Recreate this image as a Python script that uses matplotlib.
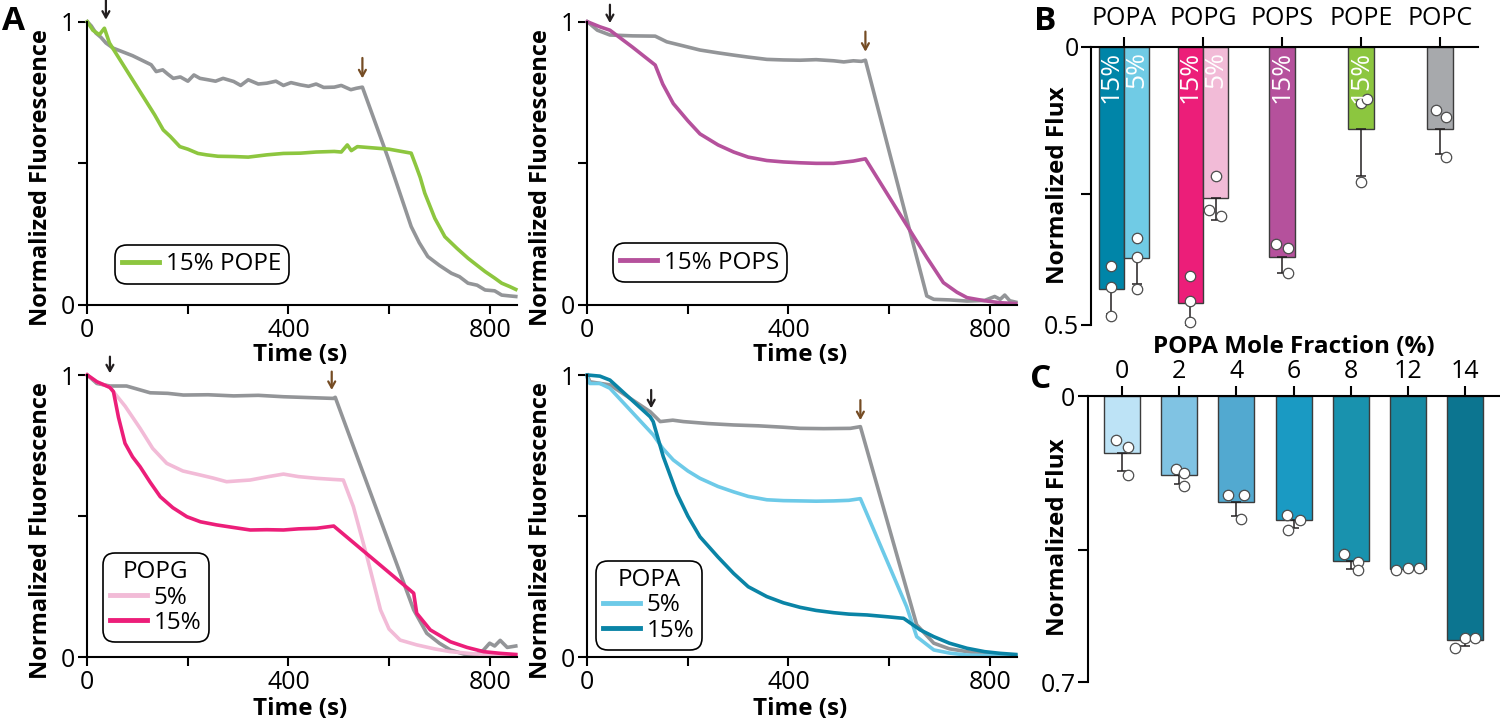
import numpy as np
import matplotlib
matplotlib.use("Agg")
import matplotlib.pyplot as plt
from matplotlib.lines import Line2D

plt.rcParams['font.family'] = ['Open Sans', 'DejaVu Sans']

# ==================================================
# DATA - panel A (time in s, normalized fluorescence)
# ==================================================

pope_ctrl_t = [0, 8, 17, 27, 37, 51, 90, 127, 137, 150, 160, 171, 185, 200, 212, 224, 240, 255, 270, 291, 305, 320, 340, 357,
               375, 390, 405, 424, 440, 455, 470, 491, 505, 524, 535, 547, 597, 644, 660, 677, 700, 724, 740, 757, 775, 791,
               810, 824, 840, 852]
pope_ctrl_y = [1.0, 0.985, 0.96, 0.945, 0.925, 0.907, 0.88, 0.848, 0.824, 0.83, 0.815, 0.80, 0.805, 0.79, 0.812, 0.80, 0.795,
               0.79, 0.80, 0.789, 0.775, 0.795, 0.78, 0.783, 0.79, 0.775, 0.785, 0.777, 0.772, 0.78, 0.768, 0.769, 0.775, 0.76,
               0.765, 0.769, 0.524, 0.277, 0.22, 0.171, 0.14, 0.112, 0.10, 0.077, 0.07, 0.053, 0.05, 0.035, 0.032, 0.03]
pope_t = [0, 11, 24, 34, 44, 90, 134, 151, 165, 184, 200, 220, 237, 260, 291, 320, 357, 390, 424, 455, 491, 505, 517, 525,
          537, 600, 644, 654, 662, 671, 691, 711, 735, 757, 775, 791, 810, 824, 840, 852]
pope_y = [1.0, 0.97, 0.954, 0.977, 0.925, 0.795, 0.671, 0.618, 0.595, 0.559, 0.55, 0.535, 0.53, 0.525, 0.524, 0.522, 0.53,
          0.535, 0.536, 0.54, 0.542, 0.54, 0.565, 0.545, 0.559, 0.55, 0.536, 0.489, 0.45, 0.395, 0.306, 0.241, 0.2, 0.165,
          0.14, 0.118, 0.095, 0.077, 0.065, 0.055]

pops_ctrl_t = [0, 20, 45, 90, 135, 158, 190, 224, 260, 291, 320, 357, 390, 423, 455, 490, 510, 529, 545, 553, 675, 689, 720,
               755, 790, 810, 821, 830, 840, 852]
pops_ctrl_y = [1.0, 0.97, 0.953, 0.95, 0.949, 0.929, 0.915, 0.90, 0.89, 0.882, 0.875, 0.867, 0.865, 0.864, 0.866, 0.862,
               0.858, 0.862, 0.86, 0.864, 0.032, 0.02, 0.018, 0.014, 0.016, 0.03, 0.02, 0.035, 0.015, 0.01]
pops_t = [0, 25, 45, 90, 135, 150, 171, 200, 224, 260, 291, 320, 357, 390, 423, 455, 490, 529, 553, 675, 708, 735, 755, 790,
          821, 852]
pops_y = [1.0, 0.982, 0.97, 0.91, 0.847, 0.78, 0.711, 0.65, 0.604, 0.565, 0.54, 0.522, 0.51, 0.505, 0.502, 0.50, 0.50, 0.508,
          0.516, 0.168, 0.079, 0.045, 0.026, 0.015, 0.008, 0.005]

popg_ctrl_t = [0, 19, 45, 78, 125, 160, 191, 240, 291, 340, 390, 440, 490, 493, 649, 675, 700, 722, 755, 775, 788, 800, 810,
               821, 835, 852]
popg_ctrl_y = [1.0, 0.97, 0.961, 0.961, 0.937, 0.935, 0.929, 0.93, 0.926, 0.928, 0.923, 0.92, 0.917, 0.921, 0.168, 0.085,
               0.05, 0.026, 0.008, 0.01, 0.026, 0.05, 0.04, 0.06, 0.035, 0.04]
popg5_t = [0, 20, 45, 75, 105, 130, 158, 190, 224, 250, 277, 300, 324, 360, 390, 420, 456, 490, 509, 529, 556, 583, 600, 622,
           655, 690, 722, 770, 821, 852]
popg5_y = [1.0, 0.975, 0.956, 0.89, 0.811, 0.74, 0.687, 0.66, 0.646, 0.635, 0.622, 0.625, 0.628, 0.64, 0.649, 0.64, 0.634,
           0.63, 0.628, 0.534, 0.357, 0.168, 0.10, 0.061, 0.044, 0.03, 0.02, 0.012, 0.008, 0.006]
popg15_t = [0, 19, 45, 52, 62, 75, 90, 105, 125, 145, 170, 198, 225, 257, 290, 324, 357, 390, 420, 456, 490, 649, 655, 682,
            722, 755, 788, 821, 852]
popg15_y = [1.0, 0.976, 0.956, 0.941, 0.85, 0.758, 0.71, 0.675, 0.62, 0.569, 0.53, 0.498, 0.48, 0.469, 0.46, 0.451, 0.452,
            0.451, 0.455, 0.457, 0.465, 0.227, 0.156, 0.097, 0.055, 0.035, 0.02, 0.014, 0.01]

popa_ctrl_t = [0, 5, 45, 125, 145, 170, 191, 240, 291, 340, 390, 423, 470, 523, 543, 655, 689, 720, 755, 790, 821, 852]
popa_ctrl_y = [1.0, 0.976, 0.965, 0.87, 0.835, 0.84, 0.835, 0.828, 0.823, 0.82, 0.815, 0.811, 0.81, 0.811, 0.817, 0.115, 0.05,
               0.03, 0.02, 0.012, 0.008, 0.006]
popa5_t = [0, 5, 25, 45, 131, 150, 171, 200, 224, 260, 291, 320, 357, 390, 423, 455, 490, 520, 543, 635, 655, 689, 720, 755,
           821, 852]
popa5_y = [0.99, 0.97, 0.97, 0.953, 0.788, 0.74, 0.699, 0.66, 0.634, 0.605, 0.586, 0.57, 0.558, 0.555, 0.554, 0.553, 0.554,
           0.556, 0.562, 0.179, 0.073, 0.026, 0.015, 0.008, 0.005, 0.004]
popa15_t = [0, 25, 45, 125, 131, 151, 178, 200, 224, 260, 291, 320, 357, 390, 423, 455, 490, 520, 556, 600, 629, 662, 689,
            720, 755, 790, 821, 852]
popa15_y = [1.0, 0.996, 0.982, 0.852, 0.835, 0.711, 0.581, 0.5, 0.427, 0.355, 0.297, 0.25, 0.215, 0.193, 0.177, 0.166, 0.158,
            0.153, 0.15, 0.143, 0.138, 0.097, 0.073, 0.05, 0.032, 0.02, 0.014, 0.01]

# arrows: (time, tail y, tip y) for the black (protein) and brown (ionophore) additions
pope_arrows = [(37, 1.078, 1.007), (547, 0.872, 0.80)]
pops_arrows = [(45, 1.06, 0.995), (553, 0.965, 0.894)]
popg_arrows = [(45, 1.065, 1.006), (486, 1.012, 0.947)]
popa_arrows = [(127, 0.947, 0.882), (543, 0.911, 0.84)]

# ==================================================
# DATA - panel B
# ==================================================
b_groups = ['POPA', 'POPG', 'POPS', 'POPE', 'POPC']
b_bar_group = [0, 0, 1, 1, 2, 3, 4]
b_bar_text = ['15%', '5%', '15%', '5%', '15%', '15%', '']
b_values = [0.437, 0.381, 0.462, 0.272, 0.379, 0.148, 0.148]
b_points = [[0.395, 0.433, 0.484], [0.345, 0.379, 0.437], [0.413, 0.458, 0.495], [0.232, 0.294, 0.305],
            [0.356, 0.363, 0.408], [0.101, 0.094, 0.244], [0.114, 0.127, 0.198]]

# ==================================================
# DATA - panel C
# ==================================================
c_fraction = ['0', '2', '4', '6', '8', '12', '14']
c_values = [0.139, 0.193, 0.26, 0.303, 0.404, 0.423, 0.597]
c_points = [[0.108, 0.125, 0.193], [0.179, 0.188, 0.22], [0.242, 0.242, 0.301], [0.291, 0.303, 0.328],
            [0.387, 0.406, 0.426], [0.425, 0.421, 0.421], [0.592, 0.592, 0.617]]

# ==================================================
# STYLE
# ==================================================
GRAY = '#939598'
ARROW_BLACK = '#231f20'
ARROW_BROWN = '#754c24'
b_colors = ['#0085a8', '#70cbe5', '#ec1e79', '#f2bbd7', '#b5519c', '#8cc63f', '#a7a9ac']
c_colors = ['#bde3f6', '#80c3e3', '#52a9d0', '#1a9ac3', '#1992ae', '#178aa3', '#0c7590']
b_jitter = [[0, 0, 0], [0, 0, 0], [0, 0, 0], [0, -0.08, 0.07], [-0.08, 0.08, 0.07], [0, 0.08, 0], [-0.05, 0.07, 0.07]]
c_jitter = [[-0.1, 0.1, 0.1], [-0.06, 0.09, 0.09], [-0.14, 0.13, 0.08], [-0.12, 0.12, -0.09], [-0.12, 0.13, 0.13],
            [-0.2, 0, 0.2], [0, 0.17, -0.17]]

W, H = 1500, 718
fig = plt.figure(figsize=(15, 7.18), dpi=100)


def px_axes(left, top, right, bottom):
    return fig.add_axes([left / W, 1 - bottom / H, (right - left) / W, (bottom - top) / H])


def style_trace_axes(ax):
    ax.set_xlim(0, 855)
    ax.set_ylim(0, 1)
    for s in ['top', 'right']:
        ax.spines[s].set_visible(False)
    for s in ['left', 'bottom']:
        ax.spines[s].set_linewidth(1.5)
    ax.set_xticks([0, 200, 400, 600, 800])
    ax.set_xticklabels(['0', '', '400', '', '800'])
    ax.set_yticks([0, 0.5, 1])
    ax.set_yticklabels(['0', '', '1'])
    ax.tick_params(width=1.5, length=6.5, labelsize=18, pad=2)
    ax.tick_params(axis='x', pad=3)
    ax.set_xlabel('Time (s)', fontsize=17.5, fontweight='bold')
    ax.set_ylabel('Normalized Fluorescence', fontsize=17, fontweight='bold')
    ax.yaxis.set_label_coords(-0.08, 0.45)


def draw_arrows(ax, arrows):
    for (t, y0, y1), c in zip(arrows, [ARROW_BLACK, ARROW_BROWN]):
        ax.annotate('', xy=(t, y1), xytext=(t, y0), annotation_clip=False,
                    arrowprops=dict(arrowstyle='->,head_length=0.45,head_width=0.25', color=c, lw=1.6,
                                    shrinkA=0, shrinkB=0))


def trace_legend(ax, handles, labels, anchor, title=None):
    leg = ax.legend(handles, labels, loc='lower left', bbox_to_anchor=anchor, borderaxespad=0, fontsize=17.5,
                    title=title, title_fontsize=17.5, handlelength=1.5, handletextpad=0.3, borderpad=0.3,
                    labelspacing=0.05, frameon=True, fancybox=True, framealpha=1)
    leg.get_frame().set_edgecolor('black')
    leg.get_frame().set_linewidth(1.2)
    leg.get_frame().set_boxstyle('round,pad=0,rounding_size=0.5')
    return leg


LW = 2.6

# ---- A: POPE ----
ax1 = px_axes(87.3, 21.7, 517.3, 305)
ax1.plot(pope_ctrl_t, pope_ctrl_y, color=GRAY, lw=LW, clip_on=False)
ax1.plot(pope_t, pope_y, color='#8dc63f', lw=LW, clip_on=False)
style_trace_axes(ax1)
ax1.xaxis.set_label_coords(0.495, -0.135)
draw_arrows(ax1, pope_arrows)
trace_legend(ax1, [Line2D([], [], color='#8dc63f', lw=3.5)], ['15% POPE'], (0.064, 0.075))

# ---- A: POPS ----
ax2 = px_axes(587.3, 21.7, 1017.3, 305)
ax2.plot(pops_ctrl_t, pops_ctrl_y, color=GRAY, lw=LW, clip_on=False)
ax2.plot(pops_t, pops_y, color='#b5519c', lw=LW, clip_on=False)
style_trace_axes(ax2)
ax2.xaxis.set_label_coords(0.495, -0.135)
draw_arrows(ax2, pops_arrows)
trace_legend(ax2, [Line2D([], [], color='#b5519c', lw=3.5)], ['15% POPS'], (0.06, 0.081))

# ---- A: POPG ----
ax3 = px_axes(87.3, 375, 517.3, 657.3)
ax3.plot(popg_ctrl_t, popg_ctrl_y, color=GRAY, lw=LW, clip_on=False)
ax3.plot(popg5_t, popg5_y, color='#f2bbd7', lw=LW, clip_on=False)
ax3.plot(popg15_t, popg15_y, color='#ec1e79', lw=LW, clip_on=False)
style_trace_axes(ax3)
ax3.xaxis.set_label_coords(0.495, -0.14)
draw_arrows(ax3, popg_arrows)
trace_legend(ax3, [Line2D([], [], color='#f2bbd7', lw=3.5), Line2D([], [], color='#ec1e79', lw=3.5)],
             ['5%', '15%'], (0.036, 0.054), title='POPG')

# ---- A: POPA ----
ax4 = px_axes(587.3, 375, 1017.3, 657.3)
ax4.plot(popa_ctrl_t, popa_ctrl_y, color=GRAY, lw=LW, clip_on=False)
ax4.plot(popa5_t, popa5_y, color='#6dcae8', lw=LW, clip_on=False)
ax4.plot(popa15_t, popa15_y, color='#0a84a6', lw=LW, clip_on=False)
style_trace_axes(ax4)
ax4.xaxis.set_label_coords(0.495, -0.14)
draw_arrows(ax4, popa_arrows)
trace_legend(ax4, [Line2D([], [], color='#6dcae8', lw=3.5), Line2D([], [], color='#0a84a6', lw=3.5)],
             ['5%', '15%'], (0.02, 0.026), title='POPA')


def style_bar_axes(ax):
    ax.spines['bottom'].set_visible(False)
    ax.spines['right'].set_visible(False)
    ax.spines['top'].set_linewidth(1.5)
    ax.spines['left'].set_linewidth(1.5)
    ax.xaxis.tick_top()
    ax.tick_params(width=1.5, length=7, labelsize=18, pad=2)


def draw_points(ax, xs, pts, vals, jit):
    for x, p, v, j in zip(xs, pts, vals, jit):
        sd = np.std(p, ddof=1)
        ax.errorbar(x, v, yerr=[[0], [sd]], fmt='none', ecolor='#231f20', elinewidth=1.1, capsize=3.5,
                    capthick=1.1, zorder=3)
        ax.plot(x + np.array(j), p, 'o', mfc='white', mec='#4d4d4d', ms=7.5, mew=0.9,
                zorder=4, clip_on=False)


# ---- B ----
axb = px_axes(1091, 46.7, 1478, 324.5)
bw = 0.32
counts = np.bincount(b_bar_group)
seen = np.zeros(len(b_groups), dtype=int)
b_x = []
for g in b_bar_group:
    b_x.append(g + (seen[g] - (counts[g] - 1) / 2) * bw)
    seen[g] += 1
axb.bar(b_x, b_values, width=bw, color=b_colors, edgecolor='#3c3c3c', linewidth=1.0, zorder=2)
for x, txt in zip(b_x, b_bar_text):
    axb.text(x, 0.008, txt, rotation=90, ha='center', va='top', color='white', fontsize=19, zorder=5)
draw_points(axb, b_x, b_points, b_values, b_jitter)
axb.set_xlim(-0.418, 4.481)
axb.set_ylim(0.5, 0)
axb.set_xticks(range(len(b_groups)))
axb.set_xticklabels(b_groups, fontsize=17)
axb.set_yticks([0, 0.266, 0.5])
axb.set_yticklabels(['0', '', '0.5'])
style_bar_axes(axb)
axb.tick_params(axis='x', pad=4)
axb.set_ylabel('Normalized Flux', fontsize=17.5, fontweight='bold')
axb.yaxis.set_label_coords(-0.054, 0.5)

# ---- C ----
axc = px_axes(1088, 396, 1500, 682)
c_x = np.arange(len(c_fraction))
axc.bar(c_x, c_values, width=0.63, color=c_colors, edgecolor='#3c3c3c', linewidth=1.0, zorder=2)
draw_points(axc, c_x, c_points, c_values, c_jitter)
axc.set_xlim(-0.594, 6.61)
axc.set_ylim(0.7, 0)
axc.set_xticks(c_x)
axc.set_xticklabels(c_fraction)
axc.set_yticks([0, 0.377, 0.7])
axc.set_yticklabels(['0', '', '0.7'])
style_bar_axes(axc)
axc.xaxis.set_label_position('top')
axc.set_xlabel('POPA Mole Fraction (%)', fontsize=17.5, fontweight='bold', labelpad=4)
axc.set_ylabel('Normalized Flux', fontsize=17.5, fontweight='bold')
axc.yaxis.set_label_coords(-0.044, 0.507)

# panel letters
fig.text(2 / W, 1 - 30 / H, 'A', fontsize=24, fontweight='bold')
fig.text(1034 / W, 1 - 30 / H, 'B', fontsize=24, fontweight='bold')
fig.text(1030 / W, 1 - 388 / H, 'C', fontsize=24, fontweight='bold')

fig.savefig('out.png', dpi=100)
